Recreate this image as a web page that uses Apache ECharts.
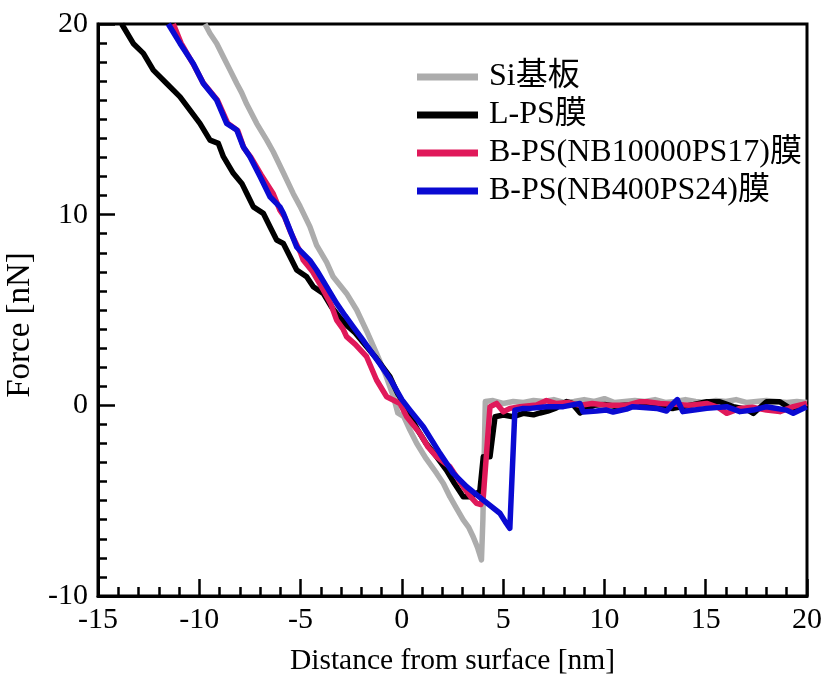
<!DOCTYPE html>
<html>
<head>
<meta charset="utf-8">
<script src="https://cdn.jsdelivr.net/npm/echarts@6/dist/echarts.min.js"></script>
<style>html,body{margin:0;padding:0;background:#fff}#c{width:829px;height:675px}</style>
</head>
<body>
<div id="c"></div>
<script>
const seriesNames = ['Si基板', 'L-PS膜', 'B-PS(NB10000PS17)膜', 'B-PS(NB400PS24)膜'];
const xTicks = [-15, -10, -5, 0, 5, 10, 15, 20];
const yTicks = [-10, 0, 10, 20];

const siData = [[-9.72,20.0],[-9.47,19.5],[-9.14,18.98],[-8.82,18.3],[-8.48,17.58],[-8.15,16.88],[-7.91,16.4],[-7.66,15.8],[-7.17,14.79],[-6.67,13.91],[-6.35,13.3],[-5.85,12.2],[-5.36,11.1],[-5.03,10.45],[-4.54,9.37],[-4.21,8.4],[-3.71,7.5],[-3.39,6.74],[-2.73,5.87],[-2.23,5.0],[-1.74,3.9],[-1.25,2.73],[-0.8,1.6],[-0.4,0.4],[-0.2,-0.4],[0.1,-0.6],[0.4,-1.3],[0.73,-1.99],[1.2,-2.8],[1.72,-3.57],[2.05,-4.1],[2.37,-4.79],[2.7,-5.4],[3.03,-6.01],[3.3,-6.4],[3.52,-6.89],[3.75,-7.5],[3.93,-8.11],[4.0,-6.0],[4.12,0.2],[4.5,0.25],[5.0,0.1],[5.5,0.2],[6.0,0.15],[6.5,0.25],[7.0,0.2],[7.5,0.3],[8.0,0.15],[8.5,0.2],[9.0,0.3],[9.5,0.2],[10.0,0.35],[10.5,0.15],[11.0,0.2],[11.5,0.25],[12.0,0.2],[12.5,0.3],[13.0,0.15],[13.5,0.2],[14.0,0.3],[14.5,0.2],[15.0,0.15],[15.5,0.25],[16.0,0.2],[16.5,0.3],[17.0,0.15],[17.5,0.2],[18.0,0.25],[18.5,0.2],[19.0,0.15],[19.5,0.2],[20.0,0.15]];

const lpsData = [[-13.83,20.0],[-13.26,18.98],[-12.76,18.46],[-12.27,17.58],[-11.61,16.88],[-10.95,16.18],[-10.46,15.48],[-9.97,14.79],[-9.47,13.91],[-9.06,13.74],[-8.81,13.04],[-8.32,12.17],[-7.9,11.64],[-7.66,11.12],[-7.33,10.41],[-6.84,10.07],[-6.51,9.37],[-6.18,8.67],[-5.85,8.49],[-5.52,7.79],[-5.19,7.10],[-4.70,6.74],[-4.37,6.22],[-3.88,5.87],[-3.5,5.2],[-3.06,4.6],[-2.73,4.2],[-2.3,3.8],[-1.91,3.3],[-1.25,2.45],[-0.59,1.50],[-0.2,0.6],[0.2,-0.1],[0.73,-1.20],[1.2,-2.0],[1.72,-2.7],[2.2,-3.4],[2.6,-4.1],[3.03,-4.79],[3.3,-4.8],[3.69,-4.62],[3.85,-4.5],[4.02,-2.70],[4.35,-2.70],[4.6,-0.6],[5.01,-0.51],[5.5,-0.6],[5.99,-0.42],[6.5,-0.5],[6.82,-0.4],[7.2,-0.3],[7.6,-0.15],[8.13,0.2],[8.4,0.1],[8.8,-0.4],[9.1,-0.2],[9.5,0.0],[10.0,0.05],[10.5,-0.05],[11.0,0.0],[11.75,0.0],[12.5,-0.1],[13.4,-0.16],[14.2,0.0],[15.05,0.19],[15.7,0.19],[16.36,-0.07],[17.0,-0.2],[17.35,-0.42],[18.0,0.19],[18.66,0.19],[19.3,-0.25],[20.0,0.0]];

const nb10000Data = [[-11.28,20.0],[-10.9,19.0],[-10.3,17.9],[-9.8,16.9],[-9.1,16.0],[-8.6,14.8],[-8.1,14.4],[-7.8,13.5],[-7.45,13.0],[-6.95,12.1],[-6.35,11.1],[-6.02,10.24],[-5.8,9.9],[-5.5,9.1],[-5.0,8.0],[-4.87,7.62],[-4.4,7.0],[-3.88,6.05],[-3.5,5.3],[-3.22,4.47],[-2.9,4.0],[-2.73,3.60],[-2.3,3.2],[-1.74,2.55],[-1.25,1.33],[-0.75,0.45],[-0.09,0.10],[0.24,-0.60],[0.89,-1.47],[1.3,-2.2],[1.72,-2.70],[2.37,-3.22],[3.03,-4.27],[3.4,-4.8],[3.69,-5.14],[3.9,-5.2],[4.02,-4.79],[4.18,-2.52],[4.35,-0.07],[4.68,0.10],[5.01,-0.34],[5.34,-0.16],[5.83,-0.07],[6.65,0.02],[7.14,0.25],[7.6,0.1],[8.2,0.15],[8.8,0.0],[9.4,0.1],[10.1,0.0],[11.1,0.0],[11.75,0.19],[12.1,0.19],[12.74,0.1],[13.5,0.05],[14.2,0.0],[15.05,0.1],[15.6,-0.1],[16.03,-0.42],[16.69,-0.16],[17.3,-0.1],[18.0,-0.25],[18.66,-0.33],[19.32,-0.07],[20.0,0.1]];

const nb400Data = [[-11.53,20.0],[-10.95,18.98],[-10.30,17.93],[-9.80,16.88],[-9.14,16.01],[-8.65,14.79],[-8.15,14.44],[-7.83,13.56],[-7.50,13.04],[-7.00,12.0],[-6.51,10.94],[-6.02,10.41],[-5.85,10.07],[-5.52,9.19],[-5.19,8.3],[-4.54,7.6],[-4.21,7.10],[-3.7,6.2],[-3.22,5.35],[-2.80,4.7],[-2.40,4.12],[-1.97,3.5],[-1.57,2.90],[-1.1,2.2],[-0.59,1.40],[0.0,0.3],[0.40,-0.25],[1.06,-1.12],[1.88,-2.52],[2.54,-3.57],[3.20,-4.27],[4.02,-4.97],[4.84,-5.66],[5.1,-6.1],[5.33,-6.45],[5.58,-0.25],[5.99,-0.16],[6.32,-0.16],[7.14,-0.07],[7.97,-0.07],[8.79,0.1],[8.95,-0.35],[9.61,-0.3],[10.1,-0.25],[10.43,-0.35],[11.09,-0.2],[11.4,-0.07],[11.75,-0.1],[12.58,-0.16],[13.07,-0.3],[13.4,0.1],[13.6,0.3],[13.87,-0.33],[14.06,-0.3],[15.05,-0.16],[16.03,-0.07],[16.69,-0.33],[17.35,-0.25],[18.0,-0.07],[18.99,-0.25],[19.32,-0.42],[19.98,-0.07]];

const colors = ['#acacac', '#000000', '#e0195a', '#0a0ad2'];
const dataSets = [siData, lpsData, nb10000Data, nb400Data];
const FONT = "'Liberation Serif', 'Times New Roman', 'Noto Sans CJK JP', serif";

const chart = echarts.init(document.getElementById('c'), null, {renderer: 'canvas'});
chart.setOption({
  animation: false,
  backgroundColor: '#fff',
  grid: {left: 98, right: 22, top: 24, bottom: 79, show: true, borderColor: '#000', borderWidth: 3, outerBoundsMode: 'none', containLabel: false},
  legend: {
    orient: 'vertical', left: 412, top: 56,
    itemWidth: 61, itemHeight: 7, itemGap: 6, icon: 'rect',
    data: seriesNames,
    textStyle: {fontFamily: FONT, fontSize: 32, lineHeight: 32, color: '#000', padding: [0, 0, 0, 6]}
  },
  xAxis: {
    type: 'value', min: xTicks[0], max: xTicks[xTicks.length - 1], interval: 5,
    name: 'Distance from surface [nm]', nameLocation: 'middle', nameGap: 50,
    nameTextStyle: {fontFamily: FONT, fontSize: 29.5, color: '#000'},
    axisLine: {show: true, onZero: false, lineStyle: {color: '#000', width: 3}},
    axisTick: {show: true, inside: true, length: 17, lineStyle: {color: '#000', width: 2.5}},
    minorTick: {show: true, splitNumber: 5, length: 9, lineStyle: {color: '#000', width: 2.5}},
    axisLabel: {fontFamily: FONT, fontSize: 30, color: '#000', margin: 9},
    splitLine: {show: false}
  },
  yAxis: {
    type: 'value', min: yTicks[0], max: yTicks[yTicks.length - 1], interval: 10,
    name: 'Force [nN]', nameLocation: 'middle', nameGap: 55, nameRotate: 90,
    nameTextStyle: {fontFamily: FONT, fontSize: 33, color: '#000', padding: [0, 30, 0, 0]},
    axisLine: {show: true, onZero: false, lineStyle: {color: '#000', width: 3}},
    axisTick: {show: true, inside: true, length: 17, lineStyle: {color: '#000', width: 2.5}},
    minorTick: {show: true, splitNumber: 10, length: 9, lineStyle: {color: '#000', width: 2.5}},
    axisLabel: {fontFamily: FONT, fontSize: 30, color: '#000', margin: 10},
    splitLine: {show: false}
  },
  series: dataSets.map((d, i) => ({
    name: seriesNames[i], type: 'line', data: d, symbol: 'none', showSymbol: false,
    color: colors[i], clip: true,
    lineStyle: {color: colors[i], width: 5.5, join: 'round'},
    z: 2 + i
  }))
});
</script>
</body>
</html>
